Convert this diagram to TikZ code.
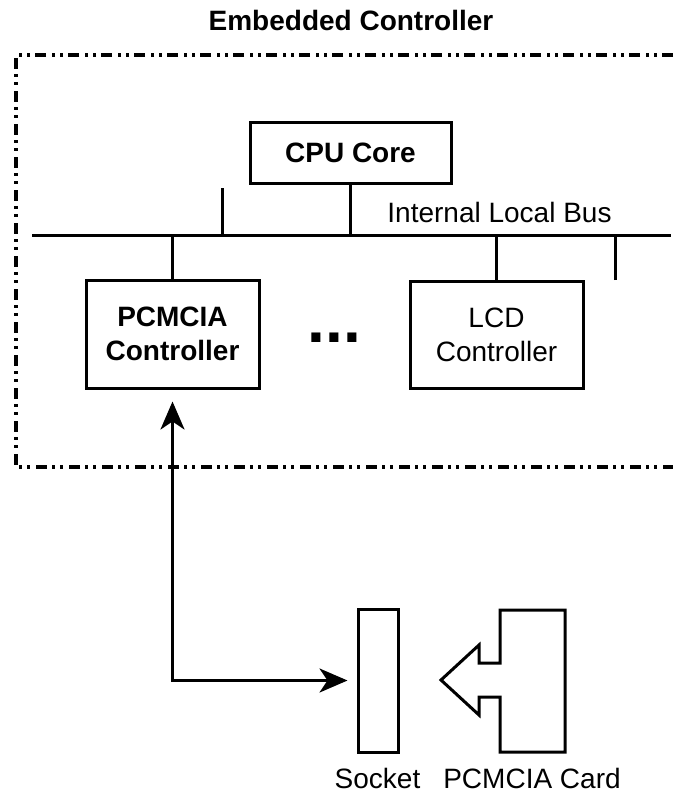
\documentclass[tikz,border=0pt]{standalone}
\usepackage{fontspec}
\setmainfont{Liberation Sans}
\usetikzlibrary{arrows.meta}
\begin{document}
\begin{tikzpicture}[x=1pt,y=-1pt,
  ln/.style={line width=3pt},
  blk/.style={draw,line width=3pt,rectangle,inner sep=0pt,align=center,
    font=\fontsize{28}{34}\selectfont},
  lbl/.style={inner sep=0pt,font=\fontsize{28}{34}\selectfont},
  frame/.style={line width=3.4pt,dash pattern=on 11pt off 5pt on 3pt off 5pt on 3pt off 6pt},
  arr/.style={line width=3pt,{Stealth[length=28pt,width=24pt,inset=8pt]}-{Stealth[length=28pt,width=24pt,inset=8pt]}}
]
\useasboundingbox (0,0) rectangle (673,795);
% frame
\draw[frame] (673,55) -- (16,55) -- (16,467) -- (673,467);
\node[lbl,font=\fontsize{28}{34}\selectfont\bfseries] (title) at (351,20) {Embedded Controller};
% blocks
\node[blk,minimum width=201pt,minimum height=61pt,font=\fontsize{28}{34}\selectfont\bfseries] (cpu) at (350.5,152.5) {CPU Core};
\node[blk,minimum width=173pt,minimum height=108pt,font=\fontsize{28}{34}\selectfont\bfseries] (pcm) at (172.5,334) {PCMCIA\\Controller};
\node[blk,minimum width=173pt,minimum height=107pt] (lcd) at (496.5,334.5) {LCD\\Controller};
\node[lbl,font=\fontsize{64}{64}\selectfont\bfseries,anchor=base] (dots) at (334.5,342.5) {...};
% bus
\coordinate (busL) at (32,235);
\coordinate (busR) at (671,235);
\draw[ln] (busL) -- (busR);
\node[lbl] (buslbl) at (499.5,212) {Internal Local Bus};
\draw[ln] (cpu.south) -- (cpu.south |- busL);
\draw[ln] (pcm.north) -- (pcm.north |- busL);
\draw[ln] (lcd.north) -- (lcd.north |- busL);
\coordinate (stubA) at (222,188);
\coordinate (stubB) at (615,280);
\draw[ln] (stubA) -- (stubA |- busL);
\draw[ln] (stubB) -- (stubB |- busL);
% socket and card
\node[draw,line width=3pt,minimum width=40pt,minimum height=143pt,inner sep=0pt] (socket) at (378,680.5) {};
\node[lbl,anchor=base] (socketlbl) at (377.5,788) {Socket};
\coordinate (cardtip) at (441,680);
\draw[ln,line join=miter] (500,610) -- (565,610) -- (565,752) -- (500,752) -- (500,697) -- (479,697) -- (479,715) -- (cardtip) -- (479,645) -- (479,663) -- (500,663) -- cycle;
\node[lbl,anchor=base] (cardlbl) at (532,788) {PCMCIA Card};
% arrow
\draw[arr,shorten <=12pt,shorten >=9pt] (pcm.south) |- (socket.west);
\end{tikzpicture}
\end{document}
